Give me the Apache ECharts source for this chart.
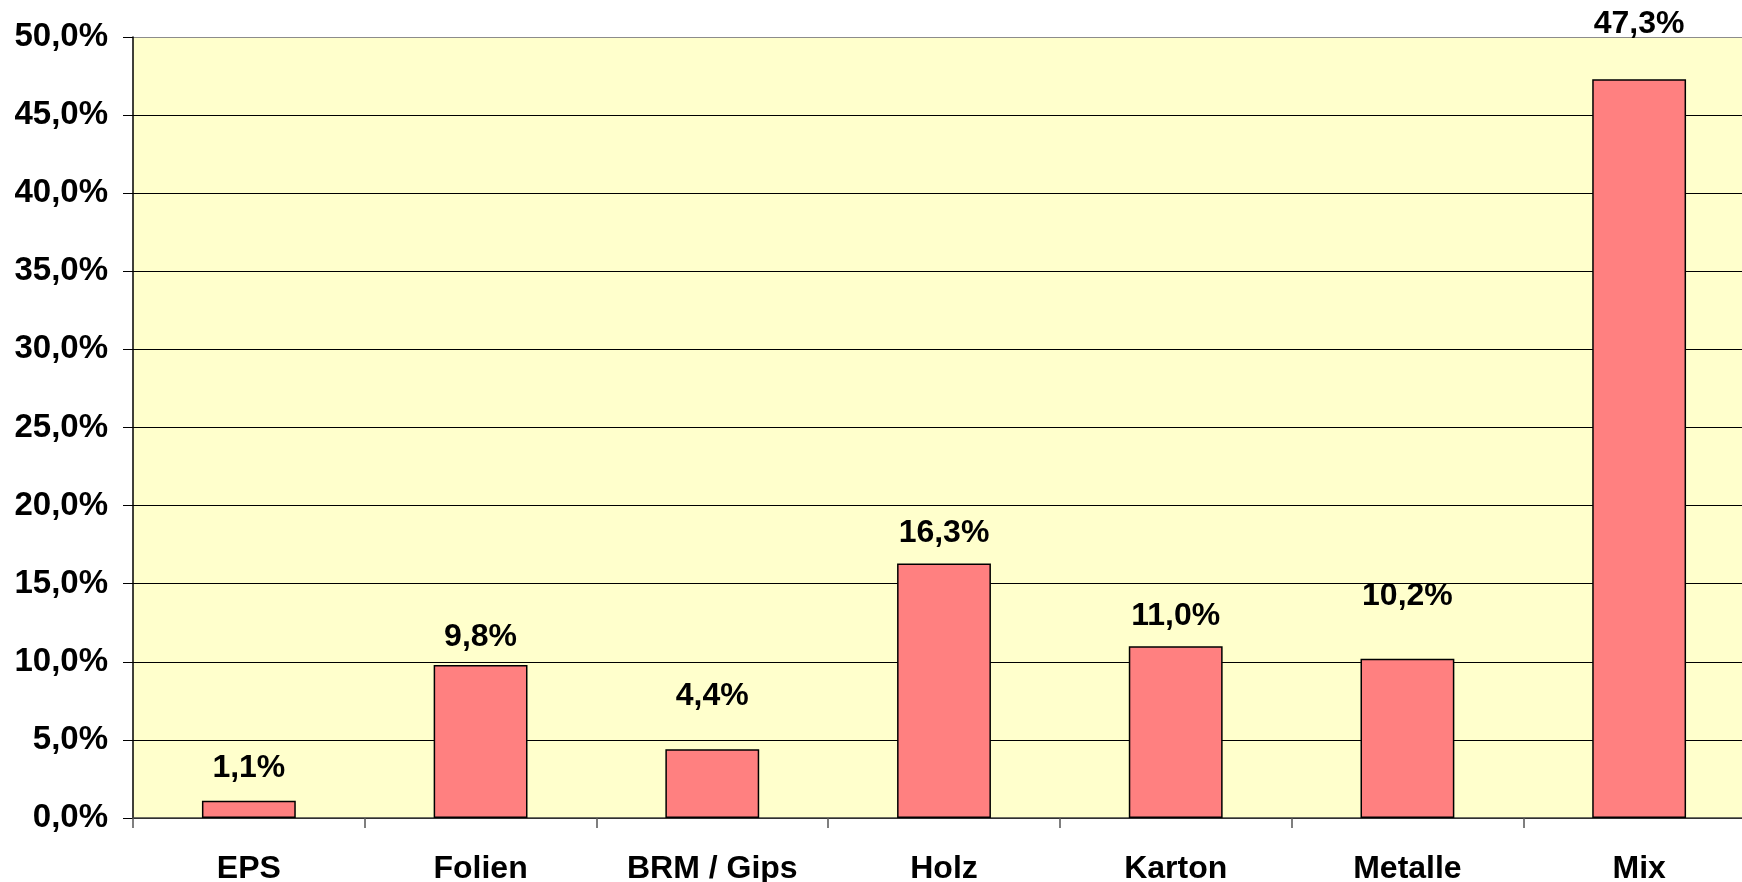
<!DOCTYPE html>
<html>
<head>
<meta charset="utf-8">
<script src="https://cdn.jsdelivr.net/npm/echarts@6/dist/echarts.min.js"></script>
<style>
html,body{margin:0;padding:0;background:#fff;overflow:hidden;}
#chart{width:1760px;height:882px;}
</style>
</head>
<body>
<div id="chart"></div>
<script>
const categories = ['EPS', 'Folien', 'BRM / Gips', 'Holz', 'Karton', 'Metalle', 'Mix'];
const values = [1.1, 9.8, 4.4, 16.3, 11.0, 10.2, 47.3];
const yTicks = [0, 5, 10, 15, 20, 25, 30, 35, 40, 45, 50];
// manual label lift above each bar (layout only)
const labelLift = [17, 12, 37, 14, 14, 47, 39];

const FONT = '"Liberation Sans", Arial, Helvetica, sans-serif';
const fmt = v => v.toFixed(1).replace('.', ',') + '%';

const chart = echarts.init(document.getElementById('chart'), null, {renderer: 'canvas'});
const splitColors = yTicks.map((t, i) => i === yTicks.length - 1 ? '#8c8c8c' : '#000000');

chart.setOption({
  animation: false,
  backgroundColor: '#ffffff',
  grid: {left: 133, top: 37, width: 1622, height: 781, containLabel: false,
         outerBoundsMode: 'none',
         show: true, backgroundColor: '#FFFFCC', borderWidth: 0},
  xAxis: {
    type: 'category',
    data: categories,
    boundaryGap: true,
    axisLine: {show: true, lineStyle: {color: '#404040', width: 1.5}},
    axisTick: {show: true, length: 10, inside: false, lineStyle: {color: '#555555', width: 1.5}},
    axisLabel: {margin: 35, color: '#000', fontFamily: FONT, fontWeight: 'bold', fontSize: 32, interval: 0},
    splitLine: {show: false}
  },
  yAxis: {
    type: 'value',
    min: yTicks[0],
    max: yTicks[yTicks.length - 1],
    interval: yTicks[1] - yTicks[0],
    axisLine: {show: true, lineStyle: {color: '#000', width: 1.5}},
    axisTick: {show: true, length: 10, inside: false, lineStyle: {color: '#000', width: 1}},
    axisLabel: {margin: 25, color: '#000', fontFamily: FONT, fontWeight: 'bold', fontSize: 33,
                formatter: v => fmt(v)},
    splitLine: {show: true, lineStyle: {color: splitColors, width: 1.2}}
  },
  series: [{
    type: 'bar',
    data: values.map((v, i) => ({
      value: v,
      label: {distance: labelLift[i]}
    })),
    barWidth: '40.5%',
    itemStyle: {color: '#FF8080', borderColor: '#000', borderWidth: 1.5},
    label: {
      show: true,
      position: 'top',
      color: '#000',
      fontFamily: FONT,
      fontWeight: 'bold',
      fontSize: 32,
      formatter: p => fmt(p.value)
    }
  }]
});
</script>
</body>
</html>
